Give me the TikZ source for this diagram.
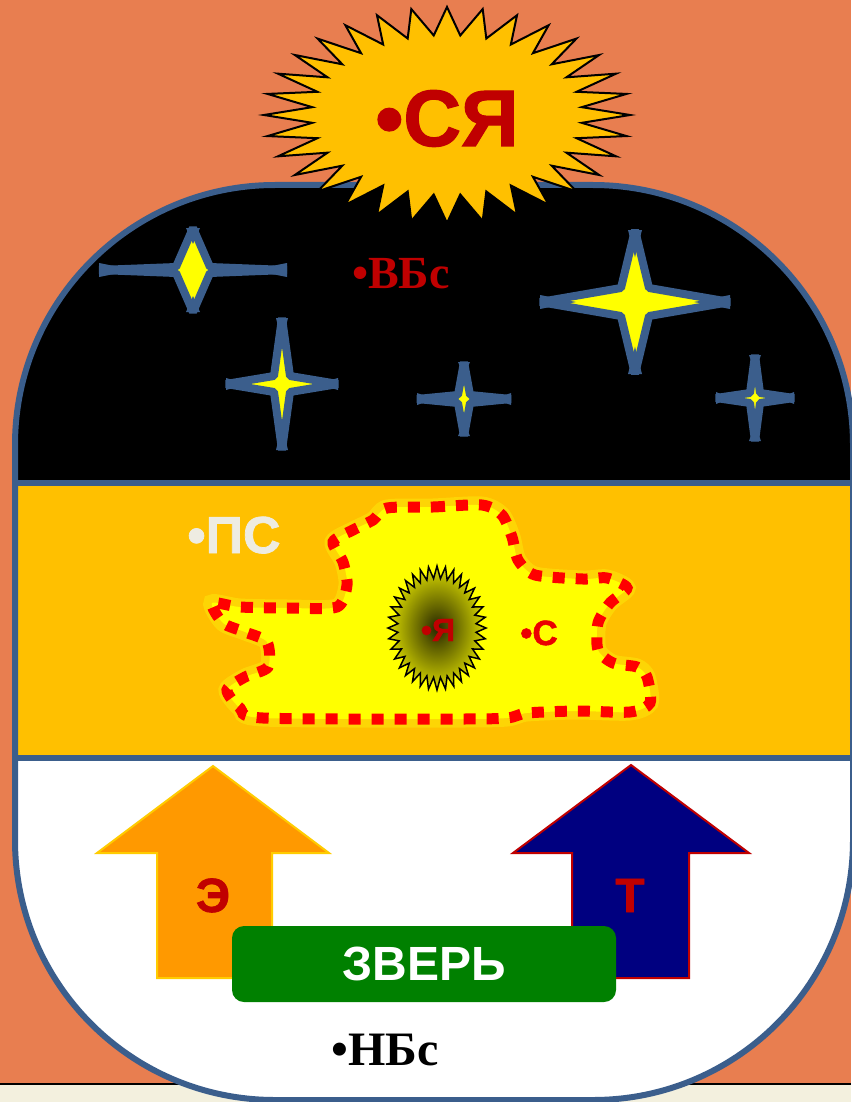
\documentclass[tikz,border=0pt]{standalone}
\usepackage{fontspec}
\setmainfont{Liberation Serif}
\setsansfont{Liberation Sans}
\newfontfamily\blacksans[FakeBold=1.4]{Liberation Sans Bold}
\usetikzlibrary{calc}
\definecolor{bgorange}{RGB}{232,126,80}
\definecolor{cream}{RGB}{243,240,222}
\definecolor{frameblue}{RGB}{59,94,140}
\definecolor{bandgold}{RGB}{255,192,0}
\definecolor{sunred}{RGB}{192,0,0}
\definecolor{staryellow}{RGB}{255,255,0}
\definecolor{arroworange}{RGB}{255,153,0}
\definecolor{arrowgold}{RGB}{255,204,0}
\definecolor{arrownavy}{RGB}{0,0,128}
\definecolor{boxgreen}{RGB}{0,128,0}
\definecolor{palegray}{RGB}{238,236,226}
\tikzset{frameline/.style={draw=frameblue, line width=6pt},
         skystar/.style={draw=frameblue, fill=staryellow, line width=8pt, line join=bevel},
         burst/.style={draw=black, fill=bandgold, line width=2pt, line join=miter},
         blobline/.style={draw=red, fill=staryellow, line width=11pt, dash pattern=on 12pt off 11pt},
         sanslabel/.style={font=\blacksans\fontsize{#1}{#1}\selectfont, anchor=base, inner sep=0pt},
         seriflabel/.style={font=\rmfamily\bfseries\fontsize{#1}{#1}\selectfont, anchor=base, inner sep=0pt},
         bigarrow/.style={line width=2pt, line join=miter},
         namebox/.style={fill=boxgreen, rounded corners=12pt, minimum width=384pt,
             minimum height=76pt, inner sep=0pt, text=white,
             font=\sffamily\bfseries\fontsize{48}{48}\selectfont}}
\newcommand\framepath{(853,620) [rounded corners=260pt] -- (853,1100) -- (15,1100) -- (15,185) -- (853,185) -- (853,620)}

\begin{document}
\begin{tikzpicture}[x=1pt, y=-1pt]
  \useasboundingbox (0,0) rectangle (851,1102);
  \fill[bgorange] (0,0) rectangle (851,1102);
  \fill[cream] (0,1084) rectangle (851,1102);
  \draw[black, line width=2pt] (0,1084) -- (851,1084);

  \fill[white] \framepath;
  \begin{scope}
    \clip \framepath;
    \fill[black] (0,180) rectangle (860,483);
    \fill[bandgold] (0,483) rectangle (860,758);
  \end{scope}
  \draw[frameline] (15,483) -- (853,483);
  \draw[frameline] (15,758) -- (853,758);
  \draw[frameline] \framepath;

  \draw[burst] (630,115) \foreach \i [evaluate=\i as \r using {mod(\i,2)==0 ? 1 : 0.74}] in {1,...,63}
      { -- ({447+183*\r*cos(\i*5.625)},{115+108*\r*sin(\i*5.625)}) } -- cycle;
  \node[sanslabel=80, text=sunred] (sya) at (447,146) {•СЯ};

  \foreach \cx/\cy/\a/\b/\p/\q/\t in {193/270/94/42/17/3/7, 282/384/56/66/8/8/6, 464/399/47/37/6/4/6,
                                      635/302/95/72/14/14/7, 755/398/39/43/5/5/6} {
    \draw[skystar] ({\cx+\a},\cy) -- ({\cx+\p},{\cy-\q}) -- (\cx,{\cy-\b}) -- ({\cx-\p},{\cy-\q})
      -- ({\cx-\a},\cy) -- ({\cx-\p},{\cy+\q}) -- (\cx,{\cy+\b}) -- ({\cx+\p},{\cy+\q}) -- cycle;
    \fill[frameblue] ({\cx+\a},{\cy-\t}) -- ({\cx+\a},{\cy+\t}) -- ({\cx+0.62*\a},\cy) -- cycle
      ({\cx-\a},{\cy-\t}) -- ({\cx-\a},{\cy+\t}) -- ({\cx-0.62*\a},\cy) -- cycle
      ({\cx-\t},{\cy-\b}) -- ({\cx+\t},{\cy-\b}) -- (\cx,{\cy-0.62*\b}) -- cycle
      ({\cx-\t},{\cy+\b}) -- ({\cx+\t},{\cy+\b}) -- (\cx,{\cy+0.62*\b}) -- cycle;
  }
  \node[seriflabel=46, text=sunred] (vbs) at (401,288) {•ВБс};

  \node[sanslabel=52, text=palegray] (ps) at (234,553) {•ПС};
  \draw[draw=yellow!45!bandgold, line width=17pt] plot[smooth cycle, tension=0.45] coordinates {
      (387,508) (433,507) (482,505) (502,515) (512,537) (518,560) (535,575) (583,579) (607,578)
      (627,588) (610,603) (598,623) (598,650) (613,663) (637,667) (647,677) (650,703) (630,712)
      (577,711) (527,713) (507,718) (457,719) (263,718) (240,708) (227,690) (245,677) (268,667)
      (267,642) (245,632) (223,623) (212,603) (240,607) (290,608) (337,607) (347,585) (343,562)
      (333,542) (353,530) (373,520)};
  \draw[blobline] plot[smooth cycle, tension=0.45] coordinates {
      (387,508) (433,507) (482,505) (502,515) (512,537) (518,560) (535,575) (583,579) (607,578)
      (627,588) (610,603) (598,623) (598,650) (613,663) (637,667) (647,677) (650,703) (630,712)
      (577,711) (527,713) (507,718) (457,719) (263,718) (240,708) (227,690) (245,677) (268,667)
      (267,642) (245,632) (223,623) (212,603) (240,607) (290,608) (337,607) (347,585) (343,562)
      (333,542) (353,530) (373,520)};
  \shadedraw[inner color=black!85!yellow, outer color=yellow!85!black, draw=black, line width=1.5pt]
      (486,628) \foreach \i [evaluate=\i as \r using {mod(\i,2)==0 ? 1 : 0.8}] in {1,...,71}
      { -- ({437+49*\r*cos(\i*5)},{628+62*\r*sin(\i*5)}) } -- cycle;
  \node[sanslabel=32, text=sunred] (ya) at (438,641) {•Я};
  \node[sanslabel=35, text=red!92!black] (s) at (539,645) {•С};

  \draw[bigarrow, fill=arroworange, draw=arrowgold] (213,766) -- (329,853) -- (272,853) -- (272,978)
      -- (157,978) -- (157,853) -- (97,853) -- cycle;
  \draw[bigarrow, fill=arrownavy, draw=sunred] (631,765) -- (749,853) -- (689,853) -- (689,978)
      -- (572,978) -- (572,853) -- (513,853) -- cycle;
  \node[sanslabel=48, text=sunred] (e) at (213,912) {Э};
  \node[sanslabel=48, text=sunred] (t) at (630,912) {Т};
  \node[namebox] (zver) at (424,964) {ЗВЕРЬ};
  \node[seriflabel=48, text=black] (nbs) at (385,1065) {•НБс};
\end{tikzpicture}
\end{document}
